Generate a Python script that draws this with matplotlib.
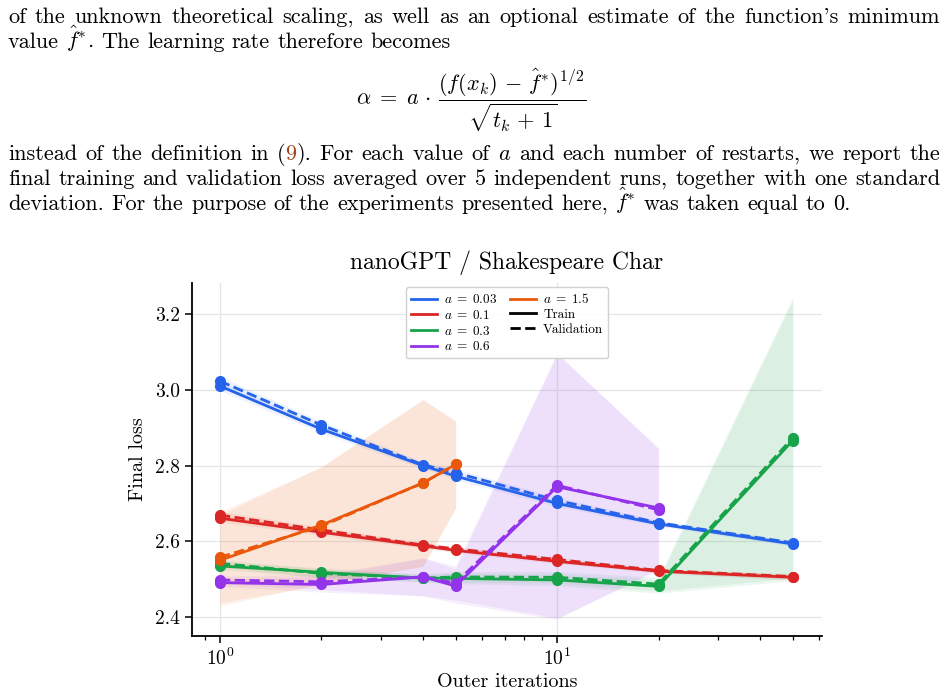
import matplotlib
matplotlib.use("Agg")
import matplotlib.pyplot as plt
from matplotlib.lines import Line2D
import numpy as np

plt.rcParams['font.family'] = 'cmr10'
plt.rcParams['mathtext.fontset'] = 'cm'
plt.rcParams['axes.formatter.use_mathtext'] = True
plt.rcParams['axes.unicode_minus'] = False

# outer iterations (restarts)
iters = [1, 2, 4, 5, 10, 20, 50]

# a = 0.03
blue_train = [3.010, 2.896, 2.800, 2.772, 2.700, 2.646, 2.593]
blue_val = [3.023, 2.907, 2.802, 2.781, 2.708, 2.649, 2.596]
blue_std = [0.012, 0.010, 0.008, 0.010, 0.008, 0.006, 0.006]
# a = 0.1
red_train = [2.661, 2.624, 2.588, 2.576, 2.547, 2.521, 2.505]
red_val = [2.669, 2.630, 2.590, 2.580, 2.552, 2.523, 2.507]
red_std = [0.010, 0.008, 0.006, 0.006, 0.006, 0.005, 0.008]
# a = 0.3
green_train = [2.535, 2.518, 2.503, 2.502, 2.498, 2.481, 2.866]
green_val = [2.542, 2.515, 2.503, 2.506, 2.505, 2.487, 2.873]
green_std = [0.010, 0.012, 0.010, 0.014, 0.015, 0.018, 0.37]
# a = 0.6 (up to 20 restarts)
purple_train = [2.491, 2.486, 2.506, 2.482, 2.744, 2.688]
purple_val = [2.498, 2.493, 2.506, 2.490, 2.748, 2.683]
purple_std = [0.010, 0.020, 0.050, 0.045, 0.35, 0.16]
# a = 1.5 (up to 5 restarts)
orange_train = [2.550, 2.643, 2.754, 2.803]
orange_val = [2.558, 2.640, 2.754, 2.803]
orange_std = [0.12, 0.155, 0.22, 0.115]

series = [
    (r"$a \;=\; 0.03$", "#2563eb", blue_train, blue_val, blue_std),
    (r"$a \;=\; 0.1$", "#dc2626", red_train, red_val, red_std),
    (r"$a \;=\; 0.3$", "#16a34a", green_train, green_val, green_std),
    (r"$a \;=\; 0.6$", "#9333ea", purple_train, purple_val, purple_std),
    (r"$a \;=\; 1.5$", "#ea580c", orange_train, orange_val, orange_std),
]

W, H = 947, 698
fig = plt.figure(figsize=(W / 100, H / 100), dpi=100)
renderer = fig.canvas.get_renderer()

body_fs = 16
link = "#a0461c"


def px(x, y):
    return x / W, 1 - y / H


def put_words(y, words, x0=8, x1=940, justify=True):
    # words: list of list of (text, color) pieces
    made = []
    widths = []
    for w in words:
        parts = []
        total = 0
        for s, c in w:
            t = fig.text(0, 0, s, color=c, fontsize=body_fs, va='baseline')
            wd = t.get_window_extent(renderer).width
            parts.append((t, wd))
            total += wd
        made.append(parts)
        widths.append(total)
    if justify:
        gap = (x1 - x0 - sum(widths)) / (len(words) - 1)
    else:
        gap = body_fs * 100 / 72 * 0.333
    x = x0
    for parts, wd in zip(made, widths):
        xx = x
        for t, w in parts:
            t.set_position(px(xx, y))
            xx += w
        x += wd + gap


def plain(line):
    return [[(w, "black")] for w in line.split()]


put_words(23, plain("of the unknown theoretical scaling, as well as an optional "
                    "estimate of the function's minimum"))
put_words(48, plain("value $\\hat{f}^{*}$. The learning rate therefore becomes"),
          justify=False)
fig.text(*px(471, 100),
         r"$\alpha \;=\; a \,\cdot\, \dfrac{(f(x_k) \,-\, \hat{f}^{*})^{1/2}}{\sqrt{t_k \,+\, 1}}$",
         fontsize=body_fs, ha='center', va='center')
line4 = plain("instead of the definition in")
line4.append([("(", "black"), ("9", link), (").", "black")])
line4 += plain("For each value of $a$ and each number of restarts, we report the")
put_words(160, line4)
put_words(185, plain("final training and validation loss averaged over 5 "
                     "independent runs, together with one standard"))
put_words(210, plain("deviation. For the purpose of the experiments presented here, "
                     "$\\hat{f}^{*}$ was taken equal to 0."), justify=False)

ax = fig.add_axes([192 / W, 1 - 636 / H, (822 - 192) / W, (636 - 283) / H])

for name, col, tr, va, sd in series:
    xs = iters[:len(tr)]
    tr = np.array(tr)
    va = np.array(va)
    sd = np.array(sd)
    ax.fill_between(xs, tr - sd, tr + sd, color=col, alpha=0.08, lw=0)
    ax.fill_between(xs, va - sd, va + sd, color=col, alpha=0.08, lw=0)
    ax.plot(xs, tr, '-', color=col, lw=2, marker='o', ms=7)
    ax.plot(xs, va, '--', color=col, lw=2, marker='o', ms=7)

ax.set_xscale('log')
ax.set_xlim(0.826, 61.1)
ax.set_ylim(2.35, 3.282)
ax.set_yticks([2.4, 2.6, 2.8, 3.0, 3.2])
ax.set_yticklabels(["2.4", "2.6", "2.8", "3.0", "3.2"])
ax.grid(True, which='major', color='#e6e6e6', lw=0.9)
ax.set_axisbelow(True)
for s in ['top', 'right']:
    ax.spines[s].set_visible(False)
for s in ['left', 'bottom']:
    ax.spines[s].set_linewidth(1.3)
ax.tick_params(axis='both', which='major', labelsize=14, length=5, width=1.1)
ax.tick_params(axis='x', which='minor', length=3, width=0.9)
ax.set_xlabel("Outer iterations", fontsize=14.5, labelpad=3)
ax.set_ylabel("Final loss", fontsize=14.5, labelpad=6)
ax.set_title("nanoGPT / Shakespeare Char", fontsize=17, pad=10)

handles = [Line2D([], [], color=c, lw=2) for _, c, _, _, _ in series[:4]]
labels = [s[0] for s in series[:4]]
handles += [Line2D([], [], color=series[4][1], lw=2),
            Line2D([], [], color='black', lw=2),
            Line2D([], [], color='black', lw=2, ls='--')]
labels += [series[4][0], "Train", "Validation"]
ax.legend(handles, labels, loc='upper center', ncol=2, fontsize=9.5,
          handlelength=2, handletextpad=0.5, columnspacing=1.0,
          labelspacing=0.2, borderaxespad=0.3, framealpha=0.9,
          edgecolor='#cccccc')

fig.savefig("out.png", dpi=100)
